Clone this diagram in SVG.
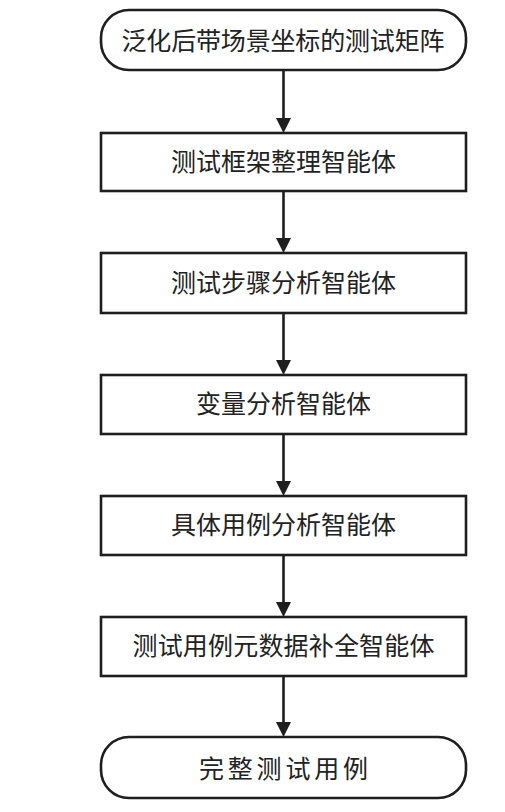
<svg xmlns="http://www.w3.org/2000/svg" width="505" height="812" viewBox="0 0 505 812">
<defs>
<style>
.box{fill:#fff;stroke:#1e1e1e;stroke-width:2.6}
.lbl{font-family:"Noto Sans CJK SC","Noto Sans CJK JP",sans-serif;font-size:25px;fill:#222;text-anchor:middle}
.con{stroke:#1e1e1e;stroke-width:2.6;fill:none}
.head{fill:#1e1e1e}
</style>
</defs>
<rect width="505" height="812" fill="#fff"/>
<g id="connectors">
<line class="con" x1="283.5" y1="70" x2="283.5" y2="120"/><polygon class="head" points="276,118 291,118 283.5,133"/>
<line class="con" x1="283.5" y1="191" x2="283.5" y2="240"/><polygon class="head" points="276,238 291,238 283.5,253"/>
<line class="con" x1="283.5" y1="313" x2="283.5" y2="362"/><polygon class="head" points="276,360 291,360 283.5,375"/>
<line class="con" x1="283.5" y1="434" x2="283.5" y2="483"/><polygon class="head" points="276,481 291,481 283.5,496"/>
<line class="con" x1="283.5" y1="555" x2="283.5" y2="604"/><polygon class="head" points="276,602 291,602 283.5,617"/>
<line class="con" x1="283.5" y1="676" x2="283.5" y2="724"/><polygon class="head" points="276,722 291,722 283.5,737"/>
</g>
<g id="n0"><rect class="box" x="101" y="10" width="365" height="60" rx="28" ry="28"/><text class="lbl" x="283" y="50" textLength="323">泛化后带场景坐标的测试矩阵</text></g>
<g id="n1"><rect class="box" x="101" y="133" width="365" height="58"/><text class="lbl" x="283.5" y="171" textLength="225">测试框架整理智能体</text></g>
<g id="n2"><rect class="box" x="101" y="253" width="365" height="60"/><text class="lbl" x="283.5" y="292" textLength="225">测试步骤分析智能体</text></g>
<g id="n3"><rect class="box" x="101" y="375" width="365" height="59"/><text class="lbl" x="283.5" y="413" textLength="175">变量分析智能体</text></g>
<g id="n4"><rect class="box" x="101" y="496" width="365" height="59"/><text class="lbl" x="283.5" y="534" textLength="225">具体用例分析智能体</text></g>
<g id="n5"><rect class="box" x="101" y="617" width="365" height="59"/><text class="lbl" x="283.5" y="655" textLength="302">测试用例元数据补全智能体</text></g>
<g id="n6"><rect class="box" x="101" y="737" width="365" height="61" rx="28" ry="28"/><text class="lbl" x="283.5" y="778" textLength="169">完整测试用例</text></g>
</svg>
